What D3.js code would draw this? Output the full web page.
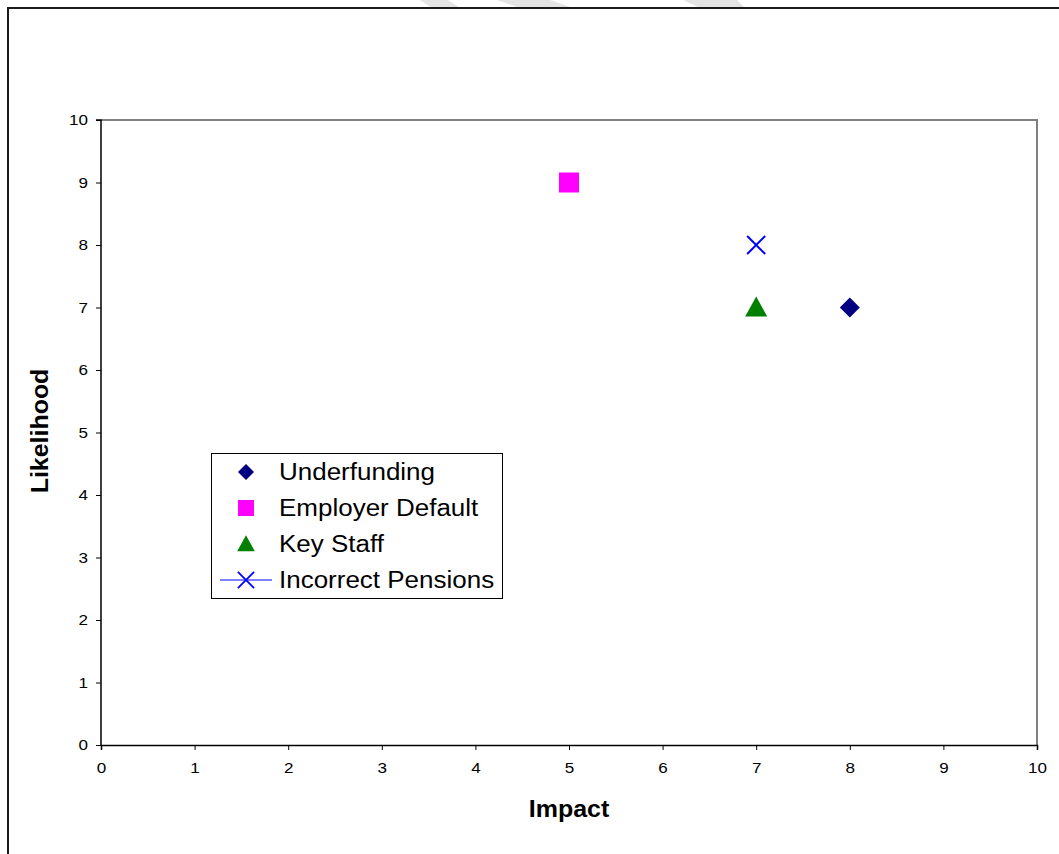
<!DOCTYPE html>
<html><head><meta charset="utf-8">
<script src="https://cdn.jsdelivr.net/npm/d3@7"></script>
<style>html,body{margin:0;padding:0;background:#fff;}svg{display:block;font-family:"Liberation Sans",Arial,sans-serif;}</style>
</head><body>
<svg id="c" width="1059" height="854"></svg>
<script>
const seriesNames = ["Underfunding", "Employer Default", "Key Staff", "Incorrect Pensions"];
const impactValues = [8, 5, 7, 7];
const likelihoodValues = [7, 9, 7, 8];
const seriesColors = ["#000080", "#FF00FF", "#008000", "#0000FF"];
const seriesShapes = ["diamond", "square", "triangle", "cross"];
const xTicks = [0,1,2,3,4,5,6,7,8,9,10];
const yTicks = [0,1,2,3,4,5,6,7,8,9,10];

const svg = d3.select("#c");
// watermark fragments above the frame
const wm = [[[420,0],[448,0],[460,8],[432,8]],[[497,0],[550,0],[573,8],[520,8]],[[683,0],[737,0],[745,8],[700,8]]];
svg.selectAll("polygon.wm").data(wm).join("polygon").attr("points", d=>d.map(p=>p.join(",")).join(" ")).attr("fill","#e4e4e4");
// outer frame
svg.append("rect").attr("x",8).attr("y",8).attr("width",1100).attr("height",900).attr("fill","none").attr("stroke","#1a1a1a").attr("stroke-width",2);

const x = d3.scaleLinear().domain([0,10]).range([101,1037]);
const y = d3.scaleLinear().domain([0,10]).range([745,120]);

// plot area border (top/right gray)
svg.append("path").attr("d",`M${x(0)},${y(10)}H${x(10)}V${y(0)}`).attr("fill","none").attr("stroke","#808080").attr("stroke-width",2);

const xAxis = svg.append("g").attr("transform",`translate(0,${y(0)})`).call(d3.axisBottom(x).tickValues(xTicks).tickSize(5).tickPadding(12).tickFormat(d3.format("d")));
const yAxis = svg.append("g").attr("transform",`translate(${x(0)},0)`).call(d3.axisLeft(y).tickValues(yTicks).tickSize(5).tickPadding(8).tickFormat(d3.format("d")));
[xAxis,yAxis].forEach(a=>{
  a.select(".domain").attr("stroke","#000").attr("stroke-width",1.5);
  a.selectAll(".tick line").attr("stroke","#000");
  a.selectAll("text").attr("font-size",15.5).attr("fill","#000").attr("font-family","Liberation Sans, Arial, sans-serif");
});
// horizontal stretch of tick labels
xAxis.selectAll(".tick text").attr("transform","scale(1.1,1)").attr("x",0);
yAxis.selectAll(".tick text").each(function(){
  const t = d3.select(this); const xx = +t.attr("x");
  t.attr("x", xx/1.1).attr("transform","scale(1.1,1)");
});
yAxis.select(".domain").attr("d",`M-5,${y(10)}H0V${y(0)}`);

svg.append("text").attr("transform","translate(569,817) scale(1.04,1)").attr("text-anchor","middle").attr("font-size",24).attr("font-weight","bold").text("Impact");
svg.append("text").attr("transform","translate(48,431) rotate(-90) scale(1.04,1)").attr("text-anchor","middle").attr("font-size",24).attr("font-weight","bold").text("Likelihood");

function drawMarker(g, shape, color, cx, cy){
  if(shape==="diamond"){
    g.append("path").attr("d",`M${cx},${cy-10}L${cx+10},${cy}L${cx},${cy+10}L${cx-10},${cy}Z`).attr("fill",color);
  } else if(shape==="square"){
    g.append("rect").attr("x",cx-10).attr("y",cy-10).attr("width",20).attr("height",20).attr("fill",color);
  } else if(shape==="triangle"){
    g.append("path").attr("d",`M${cx},${cy-11}L${cx+11},${cy+9}L${cx-11},${cy+9}Z`).attr("fill",color);
  } else if(shape==="cross"){
    g.append("path").attr("d",`M${cx-9},${cy-9}L${cx+9},${cy+9}M${cx+9},${cy-9}L${cx-9},${cy+9}`).attr("stroke",color).attr("stroke-width",2).attr("fill","none");
  }
}

const pts = seriesNames.map((n,i)=>({name:n, x:impactValues[i], y:likelihoodValues[i], color:seriesColors[i], shape:seriesShapes[i]}));
const mg = svg.append("g");
pts.forEach(p=>drawMarker(mg, p.shape, p.color, x(p.x), y(p.y)));

// legend
const lg = svg.append("g");
lg.append("rect").attr("x",211.5).attr("y",453.5).attr("width",291).attr("height",145).attr("fill","#fff").attr("stroke","#000").attr("stroke-width",1);
pts.forEach((p,i)=>{
  const cy = 472 + i*36;
  if(p.shape==="cross"){
    lg.append("line").attr("x1",220).attr("x2",272).attr("y1",cy).attr("y2",cy).attr("stroke",p.color).attr("stroke-width",1);
  }
  const s = p.shape==="cross" ? 0.9 : 0.8;
  const sub = lg.append("g").attr("transform",`translate(246,${cy}) scale(${s})`);
  drawMarker(sub, p.shape, p.color, 0, 0);
  lg.append("text").attr("transform",`translate(279,${cy+8}) scale(1.13,1)`).attr("font-size",23).attr("fill","#000").text(p.name);
});
</script>
</body></html>
